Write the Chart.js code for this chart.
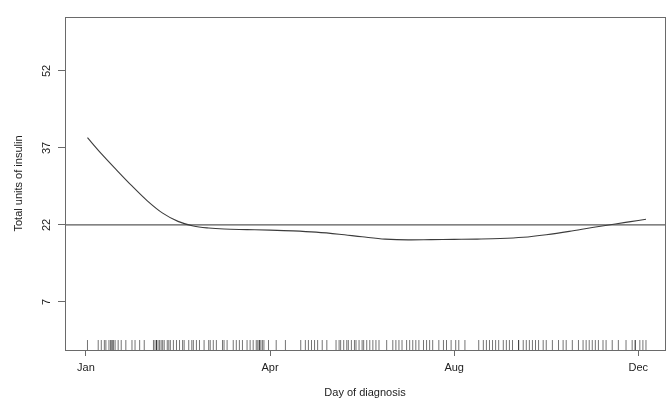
<!DOCTYPE html>
<html>
<head>
<meta charset="utf-8">
<script src="https://cdn.jsdelivr.net/npm/chart.js@4/dist/chart.umd.min.js"></script>
<style>
  html, body { margin: 0; padding: 0; background: #ffffff; }
  #wrap { width: 671px; height: 408px; }
</style>
</head>
<body>
<div id="wrap"><canvas id="c" width="671" height="408"></canvas></div>
<script>
// Smoothed insulin total by day of diagnosis (day of year)
const curveDays   = [1, 10, 20, 30, 40, 50, 60, 70, 80, 90, 105, 120, 135, 150, 165, 180, 195, 210, 225, 240, 255, 270, 285, 300, 315, 330, 345, 355, 365];
const curveValues = [39.0, 35.9, 32.7, 29.6, 26.7, 24.3, 22.7, 21.8, 21.4, 21.2, 21.1, 21.0, 20.85, 20.6, 20.2, 19.7, 19.25, 19.1, 19.15, 19.2, 19.25, 19.35, 19.6, 20.1, 20.75, 21.5, 22.2, 22.65, 23.1];

// Overall level drawn as a horizontal reference
const refLevel = 22;

// Individual diagnosis days shown as a rug along the bottom
const rugDays = [
  1, 8, 10, 12, 13, 15, 16, 17, 17, 18, 19, 21, 23, 26, 30, 32, 35, 38,
  44, 45, 46, 46, 47, 48, 49, 50, 51, 53, 54, 55, 57, 59, 61, 63, 64, 67, 69, 70, 72, 74, 77, 80, 81, 83, 85,
  89, 90, 92, 96, 98, 100, 102, 105, 107, 109, 111, 112, 113, 113, 114, 115, 116, 119, 124, 130,
  140, 143, 145, 147, 149, 151, 154, 157, 163, 165, 166, 168, 170, 171, 173, 175, 176, 178, 180, 181, 183, 185, 187, 189, 191,
  196, 200, 202, 204, 206, 209, 211, 213, 215, 217, 220, 222, 224, 226, 230, 233, 235, 238, 241, 243, 247,
  256, 259, 261, 263, 265, 267, 269, 272, 274, 276, 278, 282, 282, 285, 287, 289, 291, 293, 295, 298, 300,
  304, 308, 311, 313, 317, 321, 324, 326, 328, 330, 332, 334, 337, 339, 343, 347, 352, 356, 358, 358, 361, 363, 365
];

// Axis ticks
const xTickValues = [0, 120, 240, 360];
const xTickLabels = ['Jan', 'Apr', 'Aug', 'Dec'];
const yTickValues = [7, 22, 37, 52];

// Axis ranges
const X_MIN = -13.65, X_MAX = 377.4;
const Y_MIN = -2.35, Y_MAX = 62.5;
const RUG_HALF = 0.97; // half the rug tick length, in y units

const frame = '#6a6a6a';

const boxPlugin = {
  id: 'plotBox',
  afterDraw(chart) {
    const a = chart.chartArea, ctx = chart.ctx;
    ctx.save();
    ctx.strokeStyle = frame;
    ctx.lineWidth = 1;
    ctx.strokeRect(Math.round(a.left) + 0.5, Math.round(a.top) + 0.5,
                   Math.round(a.right - a.left), Math.round(a.bottom - a.top));
    ctx.restore();
  }
};

new Chart(document.getElementById('c'), {
  type: 'scatter',
  data: {
    datasets: [
      {
        label: 'smooth',
        type: 'line',
        data: curveDays.map((d, i) => ({ x: d, y: curveValues[i] })),
        borderColor: '#3c3c3c',
        borderWidth: 1.1,
        pointRadius: 0,
        fill: false,
        cubicInterpolationMode: 'monotone'
      },
      {
        label: 'reference',
        type: 'line',
        data: [{ x: X_MIN, y: refLevel }, { x: X_MAX, y: refLevel }],
        borderColor: '#5a5a5a',
        borderWidth: 1.2,
        pointRadius: 0,
        fill: false
      },
      {
        label: 'rug',
        data: rugDays.map(d => ({ x: d, y: Y_MIN + RUG_HALF })),
        pointStyle: 'line',
        rotation: 90,
        radius: 5,
        borderColor: 'rgba(0,0,0,0.55)',
        borderWidth: 1,
        backgroundColor: 'rgba(0,0,0,0.55)'
      }
    ]
  },
  options: {
    responsive: false,
    animation: false,
    events: [],
    layout: { padding: { top: 17, right: 2, left: 0, bottom: 0 } },
    plugins: { legend: { display: false }, tooltip: { enabled: false } },
    scales: {
      x: {
        type: 'linear',
        min: X_MIN,
        max: X_MAX,
        afterBuildTicks(scale) { scale.ticks = xTickValues.map(v => ({ value: v })); },
        afterFit(scale) { scale.height = 58; },
        ticks: {
          color: '#222',
          font: { family: 'Liberation Sans, Arial, sans-serif', size: 11 },
          padding: 5,
          maxRotation: 0,
          callback: (v) => xTickLabels[xTickValues.indexOf(v)]
        },
        grid: { drawOnChartArea: false, drawTicks: true, tickLength: 6, color: frame },
        border: { display: false },
        title: {
          display: true,
          text: 'Day of diagnosis',
          color: '#222',
          font: { family: 'Liberation Sans, Arial, sans-serif', size: 11 },
          padding: { top: 0, bottom: 8 }
        }
      },
      y: {
        min: Y_MIN,
        max: Y_MAX,
        afterBuildTicks(scale) { scale.ticks = yTickValues.map(v => ({ value: v })); },
        afterFit(scale) { scale.width = 65; },
        ticks: {
          color: '#222',
          font: { family: 'Liberation Sans, Arial, sans-serif', size: 11 },
          padding: 5,
          minRotation: 90,
          maxRotation: 90,
          crossAlign: 'center'
        },
        grid: { drawOnChartArea: false, drawTicks: true, tickLength: 7, color: frame },
        border: { display: false },
        title: {
          display: true,
          text: 'Total units of insulin',
          color: '#222',
          font: { family: 'Liberation Sans, Arial, sans-serif', size: 11 },
          padding: { top: 12, bottom: 0 }
        }
      }
    }
  },
  plugins: [boxPlugin]
});
</script>
</body>
</html>
